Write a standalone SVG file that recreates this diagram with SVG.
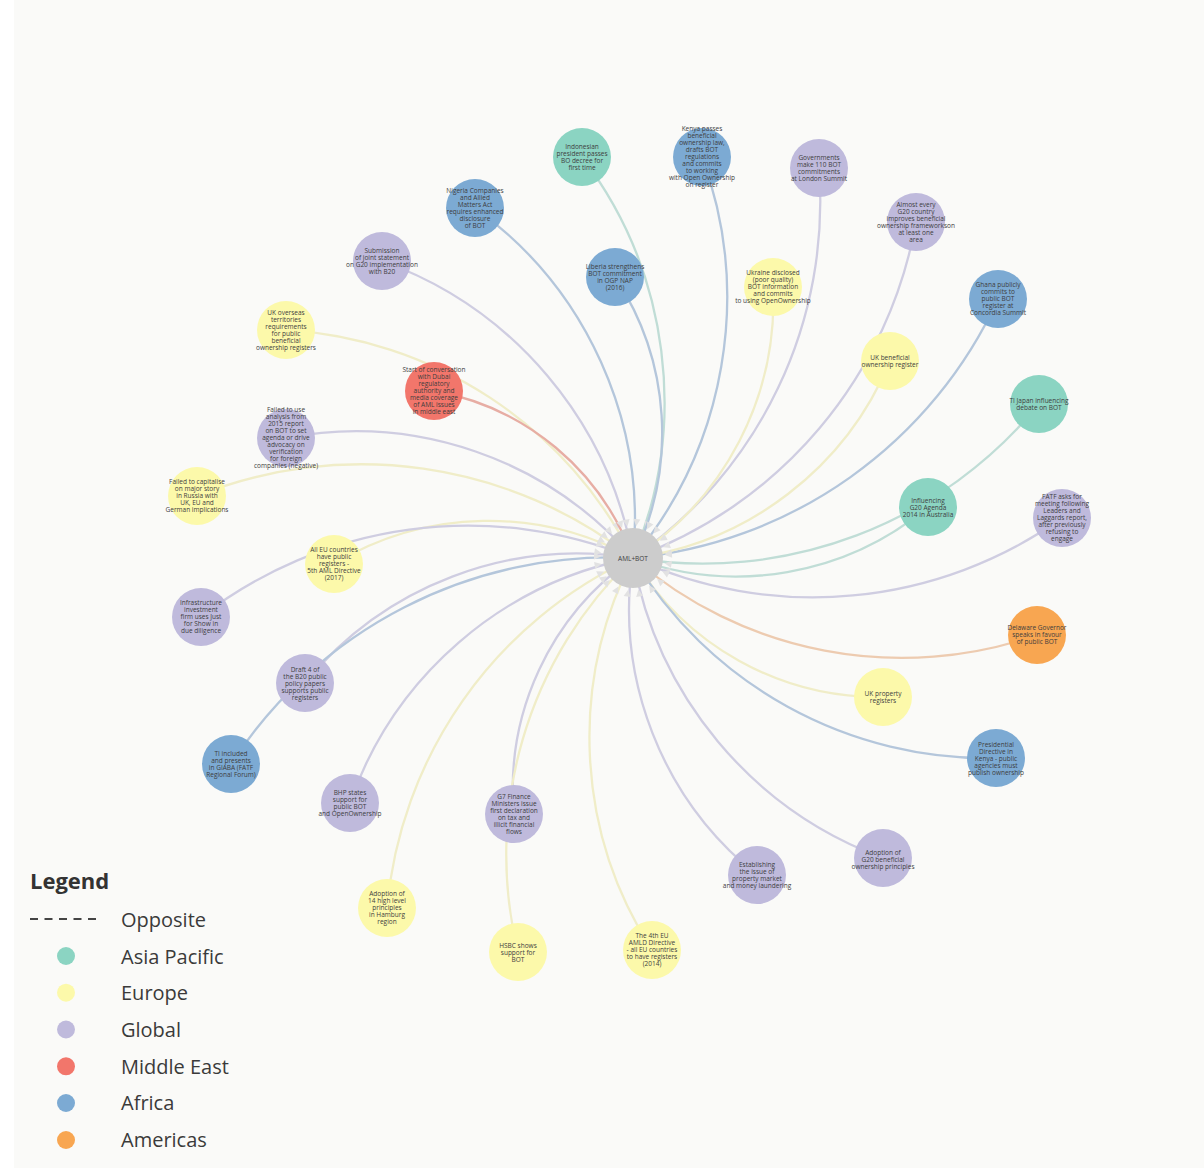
<svg xmlns="http://www.w3.org/2000/svg" width="1204" height="1168" viewBox="0 0 1204 1168">
<defs>
<style>
.bg{fill:#fafaf8}
.link{fill:none;stroke-width:2.3;marker-end:url(#arrow)}
.la{stroke:#c0ddd6}.le{stroke:#f0edc8}.lg{stroke:#cfcde1}.lm{stroke:#e7ada4}.lf{stroke:#b4c6db}.lo{stroke:#edcbb0}
.asia{fill:#8bd4c2}.eu{fill:#fcf9aa}.glob{fill:#bfbadc}.me{fill:#f2766b}.afr{fill:#7caad3}.am{fill:#f8a651}
.hub{fill:#cccccc}
.t{font-family:"Open Sans","Liberation Sans",sans-serif;font-size:6.5px;fill:#3d3d3d;text-anchor:middle}
.lt{font-family:"Open Sans","Liberation Sans",sans-serif;font-size:20px;fill:#3a3a3a}
.lh{font-family:"Open Sans","Liberation Sans",sans-serif;font-size:22px;font-weight:700;fill:#333}
</style>
<marker id="arrow" viewBox="-45 -6 50 12" refX="0" refY="0" markerWidth="50" markerHeight="12" markerUnits="userSpaceOnUse" orient="auto">
<path d="M-39,-3.5 L-32,0 L-39,3.5 Z" fill="#e2e2e2"/>
</marker>
</defs>
<rect class="bg" x="14" y="0" width="1190" height="1168"/>
<g id="connectors">
<path class="link la" d="M582,157 A404,404 0 0,1 633,558"/>
<path class="link lf" d="M702,157 A407,407 0 0,1 633,558"/>
<path class="link lg" d="M819,168 A433,433 0 0,1 633,558"/>
<path class="link lf" d="M475,208 A384,384 0 0,1 633,558"/>
<path class="link lg" d="M916,222 A438,438 0 0,1 633,558"/>
<path class="link lg" d="M382,261 A388,388 0 0,1 633,558"/>
<path class="link lf" d="M615,277 A282,282 0 0,1 633,558"/>
<path class="link le" d="M773,287 A305,305 0 0,1 633,558"/>
<path class="link lf" d="M998,299 A448,448 0 0,1 633,558"/>
<path class="link le" d="M286,330 A416,416 0 0,1 633,558"/>
<path class="link le" d="M890,361 A323,323 0 0,1 633,558"/>
<path class="link lm" d="M434,391 A259,259 0 0,1 633,558"/>
<path class="link la" d="M1039,404 A434,434 0 0,1 633,558"/>
<path class="link lg" d="M286,438 A367,367 0 0,1 633,558"/>
<path class="link le" d="M197,496 A441,441 0 0,1 633,558"/>
<path class="link la" d="M928,507 A299,299 0 0,1 633,558"/>
<path class="link lg" d="M1062,518 A431,431 0 0,1 633,558"/>
<path class="link le" d="M334,564 A299,299 0 0,1 633,558"/>
<path class="link lg" d="M201,617 A436,436 0 0,1 633,558"/>
<path class="link lo" d="M1037,635 A411,411 0 0,1 633,558"/>
<path class="link lg" d="M305,683 A351,351 0 0,1 633,558"/>
<path class="link le" d="M883,697 A286,286 0 0,1 633,558"/>
<path class="link lf" d="M996,758 A414,414 0 0,1 633,558"/>
<path class="link lf" d="M231,764 A452,452 0 0,1 633,558"/>
<path class="link lg" d="M350,803 A374,374 0 0,1 633,558"/>
<path class="link lg" d="M514,814 A281,281 0 0,1 633,558"/>
<path class="link lg" d="M883,858 A391,391 0 0,1 633,558"/>
<path class="link lg" d="M757,875 A340,340 0 0,1 633,558"/>
<path class="link le" d="M387,908 A428,428 0 0,1 633,558"/>
<path class="link le" d="M518,952 A410,410 0 0,1 633,558"/>
<path class="link le" d="M652,950 A392,392 0 0,1 633,558"/>
</g>
<g id="hub"><circle class="hub" cx="633" cy="558" r="30"/><text class="t" x="633" y="560.5">AML+BOT</text></g>
<g id="n01"><circle class="asia" cx="582" cy="157" r="29"/><text class="t"><tspan x="582" y="148.8">Indonesian</tspan><tspan x="582" y="155.8">president passes</tspan><tspan x="582" y="162.8">BO decree for</tspan><tspan x="582" y="169.8">first time</tspan></text></g>
<g id="n02"><circle class="afr" cx="702" cy="157" r="29"/><text class="t"><tspan x="702" y="130.6">Kenya passes</tspan><tspan x="702" y="137.6">beneficial</tspan><tspan x="702" y="144.6">ownership law,</tspan><tspan x="702" y="151.6">drafts BOT</tspan><tspan x="702" y="158.6">regulations</tspan><tspan x="702" y="165.6">and commits</tspan><tspan x="702" y="172.6">to working</tspan><tspan x="702" y="179.6">with Open Ownership</tspan><tspan x="702" y="186.6">on register</tspan></text></g>
<g id="n03"><circle class="glob" cx="819" cy="168" r="29"/><text class="t"><tspan x="819" y="159.8">Governments</tspan><tspan x="819" y="166.8">make 110 BOT</tspan><tspan x="819" y="173.8">commitments</tspan><tspan x="819" y="180.8">at London Summit</tspan></text></g>
<g id="n04"><circle class="afr" cx="475" cy="208" r="29"/><text class="t"><tspan x="475" y="193.3">Nigeria Companies</tspan><tspan x="475" y="200.3">and Allied</tspan><tspan x="475" y="207.3">Matters Act</tspan><tspan x="475" y="214.3">requires enhanced</tspan><tspan x="475" y="221.3">disclosure</tspan><tspan x="475" y="228.3">of BOT</tspan></text></g>
<g id="n05"><circle class="glob" cx="916" cy="222" r="29"/><text class="t"><tspan x="916" y="206.8">Almost every</tspan><tspan x="916" y="213.8">G20 country</tspan><tspan x="916" y="220.8">improves beneficial</tspan><tspan x="916" y="227.8">ownership frameworkson</tspan><tspan x="916" y="234.8">at least one</tspan><tspan x="916" y="241.8">area</tspan></text></g>
<g id="n06"><circle class="glob" cx="382" cy="261" r="29"/><text class="t"><tspan x="382" y="252.8">Submission</tspan><tspan x="382" y="259.8">of joint statement</tspan><tspan x="382" y="266.8">on G20 implementation</tspan><tspan x="382" y="273.8">with B20</tspan></text></g>
<g id="n07"><circle class="afr" cx="615" cy="277" r="29"/><text class="t"><tspan x="615" y="268.8">Liberia strengthens</tspan><tspan x="615" y="275.8">BOT commitment</tspan><tspan x="615" y="282.8">in OGP NAP</tspan><tspan x="615" y="289.8">(2016)</tspan></text></g>
<g id="n08"><circle class="eu" cx="773" cy="287" r="29"/><text class="t"><tspan x="773" y="275.3">Ukraine disclosed</tspan><tspan x="773" y="282.3">(poor quality)</tspan><tspan x="773" y="289.3">BOT information</tspan><tspan x="773" y="296.3">and commits</tspan><tspan x="773" y="303.3">to using OpenOwnership</tspan></text></g>
<g id="n09"><circle class="afr" cx="998" cy="299" r="29"/><text class="t"><tspan x="998" y="287.3">Ghana publicly</tspan><tspan x="998" y="294.3">commits to</tspan><tspan x="998" y="301.3">public BOT</tspan><tspan x="998" y="308.3">register at</tspan><tspan x="998" y="315.3">Concordia Summit</tspan></text></g>
<g id="n10"><circle class="eu" cx="286" cy="330" r="29"/><text class="t"><tspan x="286" y="314.8">UK overseas</tspan><tspan x="286" y="321.8">territories</tspan><tspan x="286" y="328.8">requirements</tspan><tspan x="286" y="335.8">for public</tspan><tspan x="286" y="342.8">beneficial</tspan><tspan x="286" y="349.8">ownership registers</tspan></text></g>
<g id="n11"><circle class="eu" cx="890" cy="361" r="29"/><text class="t"><tspan x="890" y="359.8">UK beneficial</tspan><tspan x="890" y="366.8">ownership register</tspan></text></g>
<g id="n12"><circle class="me" cx="434" cy="391" r="29"/><text class="t"><tspan x="434" y="372.3">Start of conversation</tspan><tspan x="434" y="379.3">with Dubai</tspan><tspan x="434" y="386.3">regulatory</tspan><tspan x="434" y="393.3">authority and</tspan><tspan x="434" y="400.3">media coverage</tspan><tspan x="434" y="407.3">of AML issues</tspan><tspan x="434" y="414.3">in middle east</tspan></text></g>
<g id="n13"><circle class="asia" cx="1039" cy="404" r="29"/><text class="t"><tspan x="1039" y="402.8">TI Japan influencing</tspan><tspan x="1039" y="409.8">debate on BOT</tspan></text></g>
<g id="n14"><circle class="glob" cx="286" cy="438" r="29"/><text class="t"><tspan x="286" y="412.3">Failed to use</tspan><tspan x="286" y="419.3">analysis from</tspan><tspan x="286" y="426.3">2015 report</tspan><tspan x="286" y="433.3">on BOT to set</tspan><tspan x="286" y="440.3">agenda or drive</tspan><tspan x="286" y="447.3">advocacy on</tspan><tspan x="286" y="454.3">verification</tspan><tspan x="286" y="461.3">for foreign</tspan><tspan x="286" y="468.3">companies (negative)</tspan></text></g>
<g id="n15"><circle class="eu" cx="197" cy="496" r="29"/><text class="t"><tspan x="197" y="484.3">Failed to capitalise</tspan><tspan x="197" y="491.3">on major story</tspan><tspan x="197" y="498.3">in Russia with</tspan><tspan x="197" y="505.3">UK, EU and</tspan><tspan x="197" y="512.3">German implications</tspan></text></g>
<g id="n16"><circle class="asia" cx="928" cy="507" r="29"/><text class="t"><tspan x="928" y="502.8">Influencing</tspan><tspan x="928" y="509.8">G20 Agenda</tspan><tspan x="928" y="516.8">2014 in Australia</tspan></text></g>
<g id="n17"><circle class="glob" cx="1062" cy="518" r="29"/><text class="t"><tspan x="1062" y="498.8">FATF asks for</tspan><tspan x="1062" y="505.8">meeting following</tspan><tspan x="1062" y="512.8">Leaders and</tspan><tspan x="1062" y="519.8">Laggards report,</tspan><tspan x="1062" y="526.8">after previously</tspan><tspan x="1062" y="533.8">refusing to</tspan><tspan x="1062" y="540.8">engage</tspan></text></g>
<g id="n18"><circle class="eu" cx="334" cy="564" r="29"/><text class="t"><tspan x="334" y="552.3">All EU countries</tspan><tspan x="334" y="559.3">have public</tspan><tspan x="334" y="566.3">registers -</tspan><tspan x="334" y="573.3">5th AML Directive</tspan><tspan x="334" y="580.3">(2017)</tspan></text></g>
<g id="n19"><circle class="glob" cx="201" cy="617" r="29"/><text class="t"><tspan x="201" y="605">Infrastructure</tspan><tspan x="201" y="612">investment</tspan><tspan x="201" y="619">firm uses Just</tspan><tspan x="201" y="626">for Show in</tspan><tspan x="201" y="633">due diligence</tspan></text></g>
<g id="n20"><circle class="am" cx="1037" cy="635" r="29"/><text class="t"><tspan x="1037" y="629.6">Delaware Governor</tspan><tspan x="1037" y="636.6">speaks in favour</tspan><tspan x="1037" y="643.6">of public BOT</tspan></text></g>
<g id="n21"><circle class="glob" cx="305" cy="683" r="29"/><text class="t"><tspan x="305" y="671.5">Draft 4 of</tspan><tspan x="305" y="678.5">the B20 public</tspan><tspan x="305" y="685.5">policy papers</tspan><tspan x="305" y="692.5">supports public</tspan><tspan x="305" y="699.5">registers</tspan></text></g>
<g id="n22"><circle class="eu" cx="883" cy="697" r="29"/><text class="t"><tspan x="883" y="696.3">UK property</tspan><tspan x="883" y="703.3">registers</tspan></text></g>
<g id="n23"><circle class="afr" cx="996" cy="758" r="29"/><text class="t"><tspan x="996" y="746.6">Presidential</tspan><tspan x="996" y="753.6">Directive in</tspan><tspan x="996" y="760.6">Kenya - public</tspan><tspan x="996" y="767.6">agencies must</tspan><tspan x="996" y="774.6">publish ownership</tspan></text></g>
<g id="n24"><circle class="afr" cx="231" cy="764" r="29"/><text class="t"><tspan x="231" y="756.3">TI included</tspan><tspan x="231" y="763.3">and presents</tspan><tspan x="231" y="770.3">in GIABA (FATF</tspan><tspan x="231" y="777.3">Regional Forum)</tspan></text></g>
<g id="n25"><circle class="glob" cx="350" cy="803" r="29"/><text class="t"><tspan x="350" y="795.3">BHP states</tspan><tspan x="350" y="802.3">support for</tspan><tspan x="350" y="809.3">public BOT</tspan><tspan x="350" y="816.3">and OpenOwnership</tspan></text></g>
<g id="n26"><circle class="glob" cx="514" cy="814" r="29"/><text class="t"><tspan x="514" y="799">G7 Finance</tspan><tspan x="514" y="806">Ministers issue</tspan><tspan x="514" y="813">first declaration</tspan><tspan x="514" y="820">on tax and</tspan><tspan x="514" y="827">illicit financial</tspan><tspan x="514" y="834">flows</tspan></text></g>
<g id="n27"><circle class="glob" cx="883" cy="858" r="29"/><text class="t"><tspan x="883" y="854.6">Adoption of</tspan><tspan x="883" y="861.6">G20 beneficial</tspan><tspan x="883" y="868.6">ownership principles</tspan></text></g>
<g id="n28"><circle class="glob" cx="757" cy="875" r="29"/><text class="t"><tspan x="757" y="867.3">Establishing</tspan><tspan x="757" y="874.3">the issue of</tspan><tspan x="757" y="881.3">property market</tspan><tspan x="757" y="888.3">and money laundering</tspan></text></g>
<g id="n29"><circle class="eu" cx="387" cy="908" r="29"/><text class="t"><tspan x="387" y="896.3">Adoption of</tspan><tspan x="387" y="903.3">14 high level</tspan><tspan x="387" y="910.3">principles</tspan><tspan x="387" y="917.3">in Hamburg</tspan><tspan x="387" y="924.3">region</tspan></text></g>
<g id="n30"><circle class="eu" cx="518" cy="952" r="29"/><text class="t"><tspan x="518" y="948">HSBC shows</tspan><tspan x="518" y="955">support for</tspan><tspan x="518" y="962">BOT</tspan></text></g>
<g id="n31"><circle class="eu" cx="652" cy="950" r="29"/><text class="t"><tspan x="652" y="937.7">The 4th EU</tspan><tspan x="652" y="944.7">AMLD Directive</tspan><tspan x="652" y="951.7">- all EU countries</tspan><tspan x="652" y="958.7">to have registers</tspan><tspan x="652" y="965.7">(2014)</tspan></text></g>
<g id="legend">
<text class="lh" x="30" y="889">Legend</text>
<line x1="30" y1="919" x2="96" y2="919" stroke="#444" stroke-width="2" stroke-dasharray="8 6.5"/>
<text class="lt" x="121" y="927">Opposite</text>
<circle class="asia" cx="66" cy="956" r="9"/><text class="lt" x="121" y="963.5">Asia Pacific</text>
<circle class="eu" cx="66" cy="992.7" r="9"/><text class="lt" x="121" y="1000">Europe</text>
<circle class="glob" cx="66" cy="1029.5" r="9"/><text class="lt" x="121" y="1037">Global</text>
<circle class="me" cx="66" cy="1066.3" r="9"/><text class="lt" x="121" y="1073.5">Middle East</text>
<circle class="afr" cx="66" cy="1103" r="9"/><text class="lt" x="121" y="1110.3">Africa</text>
<circle class="am" cx="66" cy="1140" r="9"/><text class="lt" x="121" y="1147">Americas</text>
</g>
</svg>
